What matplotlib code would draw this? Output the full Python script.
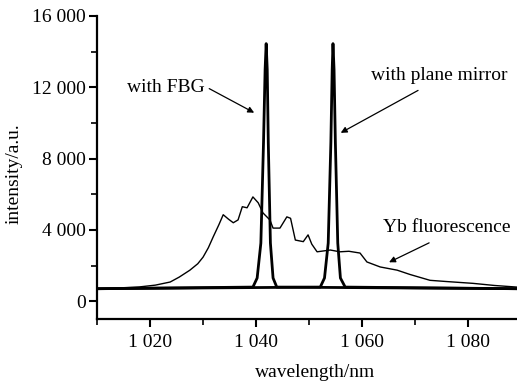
import matplotlib.pyplot as plt
from matplotlib.ticker import FuncFormatter, MultipleLocator

# Yb fluorescence spectrum
fluo_wl = [1010, 1014, 1018, 1021, 1023.8, 1025.5, 1027.5, 1029, 1030, 1031, 1031.9,
           1033, 1033.8, 1034.8, 1035.7, 1036.6, 1037.4, 1038.3, 1039.4, 1040.4, 1041.3,
           1042.6, 1043.2, 1044.5, 1045.8, 1046.5, 1047.4, 1048.9, 1049.8, 1050.5, 1051.5,
           1054, 1055.8, 1057.5, 1059.6, 1060.9, 1063.4, 1066.6, 1069, 1072.8, 1076,
           1080.9, 1085, 1089.2]
fluo_int = [700, 740, 800, 900, 1075, 1350, 1736, 2100, 2470, 3000, 3600,
            4300, 4850, 4600, 4400, 4560, 5300, 5240, 5850, 5520, 4950,
            4560, 4100, 4100, 4730, 4650, 3430, 3340, 3720, 3200, 2770,
            2870, 2770, 2800, 2700, 2200, 1920, 1740, 1500, 1170, 1100,
            1000, 880, 790]

# laser output with FBG
fbg_wl = [1010, 1039.4, 1040.2, 1040.9, 1041.4, 1041.7, 1041.9, 1042.1, 1042.3,
          1042.7, 1043.2, 1043.9, 1089.2]
fbg_int = [700, 790, 1300, 3260, 8900, 13000, 14450, 13000, 8900, 3260, 1300, 790, 700]

# laser output with plane mirror
mir_wl = [1010, 1052.1, 1052.9, 1053.6, 1054.1, 1054.35, 1054.5, 1054.7, 1054.95,
          1055.4, 1055.9, 1056.8, 1089.2]
mir_int = [700, 790, 1300, 3260, 8900, 13000, 14450, 13000, 8900, 3260, 1300, 790, 700]

plt.rcParams['font.family'] = ['Liberation Serif', 'DejaVu Serif']
plt.rcParams['font.size'] = 14

fig = plt.figure(figsize=(5.17, 3.87), dpi=100)
ax = fig.add_axes([97 / 517, 68 / 387, 420 / 517, 303 / 387])

ax.plot(fluo_wl, fluo_int, color='black', lw=1.0)
ax.plot(fbg_wl, fbg_int, color='black', lw=2.0)
ax.plot(mir_wl, mir_int, color='black', lw=2.0)

ax.set_xlim(1010, 1089.2)
ax.set_ylim(-1000, 16000)

thousands = FuncFormatter(lambda v, p: f'{int(v):,}'.replace(',', ' '))
ax.xaxis.set_major_locator(MultipleLocator(20))
ax.xaxis.set_minor_locator(MultipleLocator(10))
ax.yaxis.set_major_locator(MultipleLocator(4000))
ax.yaxis.set_minor_locator(MultipleLocator(2000))
ax.xaxis.set_major_formatter(thousands)
ax.yaxis.set_major_formatter(thousands)
ax.tick_params(which='major', direction='out', length=6, width=1.5)
ax.tick_params(which='minor', direction='out', length=4, width=1.2)
ax.tick_params(axis='x', pad=5)
ax.tick_params(axis='y', pad=2)

for s in ['top', 'right']:
    ax.spines[s].set_visible(False)
for s in ['left', 'bottom']:
    ax.spines[s].set_linewidth(1.6)

ax.set_xlabel('wavelength/nm')
ax.xaxis.set_label_coords(0.52, -0.15)
ax.set_ylabel('intensity/a.u.')
ax.yaxis.set_label_coords(-0.178, 0.48)

arrow = dict(arrowstyle='-|>', color='black', lw=0.9, mutation_scale=9)
ax.annotate('', xy=(1040.1, 10500), xytext=(1030.7, 12000), arrowprops=arrow)
ax.text(1022.9, 12000, 'with FBG', ha='center', va='center')
ax.annotate('', xy=(1055.5, 9370), xytext=(1071, 11900), arrowprops=arrow)
ax.text(1074.6, 12680, 'with plane mirror', ha='center', va='center')
ax.annotate('', xy=(1064.6, 2115), xytext=(1073.1, 3340), arrowprops=arrow)
ax.text(1075.9, 4160, 'Yb fluorescence', ha='center', va='center')

fig.savefig('out.png', dpi=100)
